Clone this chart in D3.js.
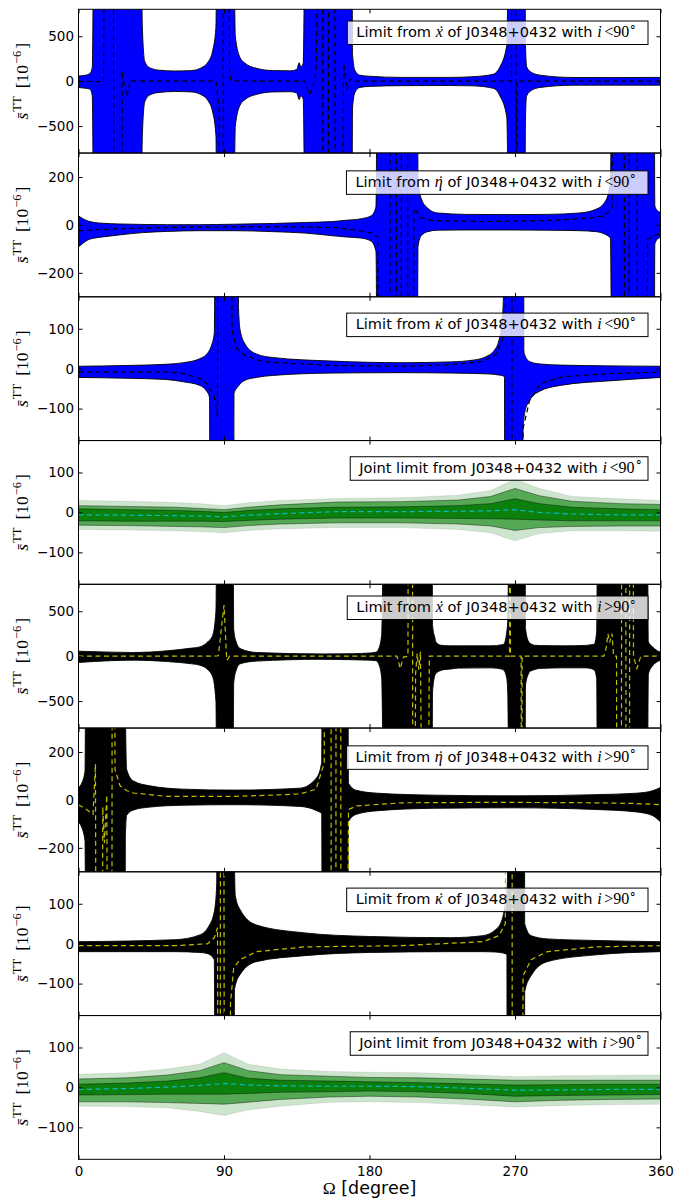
<!DOCTYPE html>
<html><head><meta charset="utf-8">
<script src="https://cdn.jsdelivr.net/npm/d3@7"></script>
<style>body{margin:0;background:#fff}svg{display:block}</style>
</head><body><svg id="c" width="676" height="1201"></svg>
<script>
// ---------- tick labels ----------
const xTicks = [0, 90, 180, 270, 360];
const yTicks800 = [-500, 0, 500];
const yTicks300 = [-200, 0, 200];
const yTicks180 = [-100, 0, 100];

// ---------- Panel 1 : x-dot, i<90 ----------
const p1_omega = [0,4,7,8.5,10, 38,39.5,41,44,50, 60,70,76,80,83, 85,86,95.4,97,100, 103,110,120,131,135, 136.5,137.5,139,140.7,169, 169.5,171,174,180,200, 230,244,256.6,260.7,264.9, 266.9,275.8,276.5,277.2,280, 285.5,306,330,360];
const p1_upper = [58,65,85,150,3000, 3000,600,220,150,122, 113,118,150,210,340, 600,3000,3000,500,260, 200,144,118,115,130, 205,160,200,3000,3000, 300,120,67,55,42, 42,50,78,160,400, 3000,3000,400,160,100, 67,41,40,42];
const p1_lower = [-70,-78,-88,-160,-3000, -3000,-600,-230,-155,-125, -115,-120,-152,-215,-345, -600,-3000,-3000,-500,-265, -205,-148,-120,-117,-132, -205,-165,-200,-3000,-3000, -300,-125,-70,-58,-50, -48,-52,-80,-165,-400, -3000,-3000,-400,-165,-105, -70,-45,-44,-45];
const p1_cOmega = [0,14,15.5,16.3,21.5, 21.9,26.5,27,28.5,30, 32,34,85,87,88, 89.4,89.7,92.5,93.5,94.5, 140,143,145,147,149, 151,151.3,154.5,154.8,158.5, 158.8,162.5,164,166,168, 170,267.8,268.1,270.4,270.6, 270.9,271.2,360];
const p1_center = [-2,-5,-8,3000,3000, -3000,-3000,110,-60,-170, 10,0,0,-300,-3000, -3000,3000,3000,100,0, 0,-150,-50,100,3000, 3000,-3000,-3000,3000,3000, -3000,-3000,200,-100,20, 0,0,3000,3000,-3000, -3000,0,0];

// ---------- Panel 2 : eta-dot, i<90 ----------
const p2_omega = [0,3,6,10,15, 25,40,55,75,96, 120,140,157,165,175, 181,184,186,209,210, 212,216,222,240,265, 290,310,320,326,329, 331.5,355.5,356.5,358,360];
const p2_upper = [38,25,16,10,7, 4,2,1,1,3, 6,10,14,19,26, 38,75,3000,3000,200, 110,70,50,44,43, 44,50,65,100,180, 3000,3000,80,60,53];
const p2_lower = [-92,-75,-62,-55,-50, -42,-32,-27,-24,-24, -28,-34,-45,-50,-55, -68,-110,-3000,-3000,-90, -45,-28,-22,-21,-21, -22,-24,-28,-40,-55, -3000,-3000,-80,-60,-52];
const p2_cOmega = [0,10,30,60,100, 140,160,175,182,185, 188,192.5,192.8,196.5,196.8, 199.5,199.8,203.5,203.8,206, 207.5,212,219,250,290, 315,325,330,332,337.5, 337.8,340.5,340.8,345.5,345.8, 350,352,356,360];
const p2_center = [-25,-20,-15,-10,-8, -8,-12,-25,-35,-50, -3000,-3000,3000,3000,-3000, -3000,3000,3000,-3000,-3000, 70,30,18,14,18, 28,38,70,3000,3000, -3000,-3000,3000,3000,-3000, -3000,-60,-45,-35];

// ---------- Panel 3 : kappa-dot, i<90 ----------
const p3_omega = [0,30,54,65,75, 79,81,82.4,84,86, 95.8,96.2,98,99,100, 103,110,120,157,200, 230,245,252,257,260, 262,263,263.5,264,274.3, 275,275.5,276,279,285, 298,330,360];
const p3_upper = [6,8,11,15,25, 35,46,60,90,3000, 3000,3000,3000,150,96, 62,37,28,19,15, 17,22,30,45,70, 120,200,3000,3000,3000, 3000,45,35,18,12, 9,7,6];
const p3_lower = [-22,-24,-27,-33,-42, -55,-71,-3000,-3000,-3000, -3000,-62,-48,-43,-38, -29,-22,-17,-11,-10, -11,-12,-13,-14,-16, -17,-19,-22,-3000,-3000, -150,-125,-110,-80,-57, -42,-30,-22];
const p3_cOmega = [0,30,55,65,75, 80,84,86,86.5,93.7, 95,98,103,115,157, 200,230,250,258,262, 264,265,268,268.2,273, 275,279,286,300,330, 360];
const p3_center = [-8.5,-8,-8,-12,-25, -40,-70,-121,3000,3000, 96,50,33,17,8, 6,10,18,35,70, 96,3000,3000,-3000,-3000, -150,-80,-37,-20,-12, -9];

// ---------- Panel 4 : joint, i<90 ----------
const p4_omega   = [0,30,60,75,90, 105,125,160,200,235, 255,270,285,305,335, 360];
const p4_lightUp = [30,28,25,22,17, 24,30,35,37,43, 55,83,60,40,34, 30];
const p4_lightLo = [-43,-44,-46,-48,-51, -45,-41,-38,-38,-43, -51,-71,-53,-46,-46, -47];
const p4_medUp   = [17,15,13,10,7, 13,19,26,27,31, 40,60,42,28,22, 20];
const p4_medLo   = [-32,-33,-35,-36,-38, -33,-29,-26,-26,-29, -34,-45,-38,-35,-34, -34];
const p4_darkUp  = [9,7,5,3,0, 5,9,13,14,17, 22,34,22,13,9, 7];
const p4_darkLo  = [-21,-22,-22,-22,-23, -20,-17,-14,-14,-15, -16,-17,-19,-21,-21, -21];
const p4_center  = [-6,-7,-8,-9,-11, -7,-3,2,2,3, 4,7,0,-4,-6, -6];

// ---------- Panel 5 : x-dot, i>90 ----------
const p5_omega = [0,20,34,55,70,75,80,83,85,86,
  95.4,96,97.5,100,110,150,170,180,184,185.5,
  187.5,189.6,218.5,219,220.5,221,224,226,230,235,
  255,262,263,264.9,265.5,266.9,276,276.5,278.5,279,
  282,285,300,314,316,319,320.5,321.5,351.5,352.5,
  355,358,360];
const p5_upper = [55,45,41,60,90,103,160,233,500,3000,
  3000,300,160,85,41,25,28,35,45,75,
  233,3000,3000,344,200,160,122,118,115,115,
  115,128,133,270,400,3000,3000,307,160,150,
  122,118,115,120,125,133,270,3000,3000,160,
  105,60,45];
const p5_lower = [-70,-50,-44,-60,-85,-100,-150,-230,-500,-3000,
  -3000,-300,-160,-85,-55,-35,-40,-44,-50,-80,
  -233,-3000,-3000,-400,-211,-195,-160,-150,-144,-133,
  -130,-145,-155,-248,-400,-3000,-3000,-322,-190,-174,
  -150,-137,-130,-130,-135,-155,-248,-3000,-3000,-200,
  -110,-62,-45];
const p5_cOmega = [0,84,86.5,90,91.7, 92.5,93.5,195,197,199, 201,203.8,204,206.5,206.8, 208,208.5,209.5,210.5,211.5, 213,216,217,266.6,266.9, 267.1,267.2,273.8,274,274.2, 274.4,325,326.5,327.5,328.5, 330,331,332.8,333,335.8, 336,338.5,338.7,340.8,341, 343,343.3,345.4,347.8,360];
const p5_center = [0,0,5,570,-45, -30,0,0,0,-137, -10,0,3000,3000,-3000, -3000,-200,30,-150,50, -3000,-3000,0,0,3000, 3000,0,0,-3000,-3000, 0,0,100,250,150, 250,0,0,-3000,-3000, 3000,3000,-3000,-3000,3000, 3000,0,-137,0,0];

// ---------- Panel 6 : eta-dot, i>90 ----------
const p6_omega = [0,2,4,5.5,28.5, 29,29.8,34,44,65, 96,137,147.3,150.4,151.4, 166,167,172,185,220, 270,320,345,355,360];
const p6_upper = [52,70,120,3000,3000, 400,127,79,59,45, 41,49,93,156,3000, 3000,70,40,28,20, 17,22,28,38,52];
const p6_lower = [-92,-115,-170,-3000,-3000, -150,-64,-42,-30,-22, -20,-27,-45,-57,-3000, -3000,-90,-60,-45,-35, -33,-40,-50,-65,-92];
const p6_cOmega = [0,5,9,10.5,11.5, 14,15,16,17.5,19, 20.5,21,22.6,25.7,30, 34,54,96,120,137, 147,152,153,156,156.5, 159,159.5,162,162.5,165, 167,172,200,260,320, 345,360];
const p6_center = [-20,-40,-60,150,-3000, -3000,-30,-180,20,-3000, -3000,3000,127,59,38, 29,15,15,20,25, 45,156,3000,3000,-3000, -3000,3000,3000,-3000,-3000, -40,-25,-12,-10,-12, -15,-20];

// ---------- Panel 7 : kappa-dot, i>90 ----------
const p7_omega = [0,60,75,80,84, 85.5,86,95.4,95.5,96.5, 97,100,110,140,180, 230,250,258,262,264, 265,265.5,266.5,274.5,275.5, 276,280,290,320,360];
const p7_upper = [5,10,22,40,80, 150,3000,3000,3000,200, 120,85,47,27,18, 15,20,35,60,100, 130,200,3000,3000,3000, 50,20,12,8,5];
const p7_lower = [-20,-20,-22,-25,-40, -3000,-3000,-3000,-3000,-115, -105,-77,-45,-30,-22, -20,-20,-21,-23,-25, -28,-3000,-3000,-3000,-3000, -120,-80,-45,-28,-20];
const p7_cOmega = [0,60,80,84,86, 87.5,88,89.5,90,91, 92,94,96,100,110, 140,200,250,260,264, 266,268,268.5,272,275, 280,290,320,360];
const p7_center = [-5,-5,0,15,40, -3000,3000,3000,140,-3000, -3000,-150,-60,-40,-20, -8,-5,5,20,50, 3000,3000,-3000,-3000,-80, -40,-20,-8,-5];

// ---------- Panel 8 : joint, i>90 ----------
const p8_omega   = [0,30,55,75,90, 105,125,155,180,210, 240,270,300,330,360];
const p8_lightUp = [33,37,46,58,87, 58,46,40,38,37, 32,27,29,30,31];
const p8_lightLo = [-47,-48,-51,-60,-70, -56,-47,-37,-36,-38, -43,-49,-45,-43,-42];
const p8_medUp   = [21,24,31,42,62, 42,32,28,25,24, 21,18,18,18,18];
const p8_medLo   = [-36,-36,-38,-40,-42, -37,-30,-24,-22,-24, -29,-36,-32,-30,-29];
const p8_darkUp  = [8,11,16,24,37, 23,18,16,14,12, 9,6,7,8,8];
const p8_darkLo  = [-19,-18,-17,-17,-17, -15,-12,-11,-9,-11, -15,-22,-20,-19,-18];
const p8_center  = [-5,-3,1,5,10, 6,4,3,3,2, -2,-7,-6,-5,-5];

// ---------- panel table ----------
const panels = [
  {type:'band', omega:p1_omega, upper:p1_upper, lower:p1_lower, cOmega:p1_cOmega, center:p1_center, dom:800, ticks:yTicks800, fill:'#0000ff', dash:'#000', sym:'x', cmp:'<', legTop:11.7},
  {type:'band', omega:p2_omega, upper:p2_upper, lower:p2_lower, cOmega:p2_cOmega, center:p2_center, dom:300, ticks:yTicks300, fill:'#0000ff', dash:'#000', sym:'\u03b7', cmp:'<', legTop:17.8},
  {type:'band', omega:p3_omega, upper:p3_upper, lower:p3_lower, cOmega:p3_cOmega, center:p3_center, dom:180, ticks:yTicks180, fill:'#0000ff', dash:'#000', sym:'\u03ba', cmp:'<', legTop:16.3},
  {type:'joint', omega:p4_omega, lightUp:p4_lightUp, lightLo:p4_lightLo, medUp:p4_medUp, medLo:p4_medLo, darkUp:p4_darkUp, darkLo:p4_darkLo, center:p4_center, dom:180, ticks:yTicks180, cmp:'<', legTop:16.2},
  {type:'band', omega:p5_omega, upper:p5_upper, lower:p5_lower, cOmega:p5_cOmega, center:p5_center, dom:800, ticks:yTicks800, fill:'#000000', dash:'#bfbf00', sym:'x', cmp:'>', legTop:11.7},
  {type:'band', omega:p6_omega, upper:p6_upper, lower:p6_lower, cOmega:p6_cOmega, center:p6_center, dom:300, ticks:yTicks300, fill:'#000000', dash:'#bfbf00', sym:'\u03b7', cmp:'>', legTop:17.8},
  {type:'band', omega:p7_omega, upper:p7_upper, lower:p7_lower, cOmega:p7_cOmega, center:p7_center, dom:180, ticks:yTicks180, fill:'#000000', dash:'#bfbf00', sym:'\u03ba', cmp:'>', legTop:16.3},
  {type:'joint', omega:p8_omega, lightUp:p8_lightUp, lightLo:p8_lightLo, medUp:p8_medUp, medLo:p8_medLo, darkUp:p8_darkUp, darkLo:p8_darkLo, center:p8_center, dom:180, ticks:yTicks180, cmp:'>', legTop:16.2}
];

// ---------- drawing ----------
const svg = d3.select('#c');
const X0 = 78.5, X1 = 660.5, TOP = 9.3, PH = 143.75;
const x = d3.scaleLinear().domain([0, 360]).range([X0, X1]);
const defs = svg.append('defs');
const SANS = 'DejaVu Sans', SERIF = 'Liberation Serif';
const LSANS = 14.6, LSERIF = 16;

function measure(str, family, size, style) {
  const t = svg.append('text').attr('font-family', family).attr('font-size', size)
    .attr('font-style', style || 'normal').text(str);
  const w = t.node().getComputedTextLength();
  t.remove();
  return w;
}

panels.forEach((p, i) => {
  const top = TOP + i * PH, bot = top + PH;
  const y = d3.scaleLinear().domain([-p.dom, p.dom]).range([bot, top]);
  const cid = 'clip' + i;
  defs.append('clipPath').attr('id', cid).append('rect')
    .attr('x', X0).attr('y', top).attr('width', X1 - X0).attr('height', PH);
  const pg = svg.append('g').attr('clip-path', `url(#${cid})`);
  const idx = d3.range(p.omega.length);

  if (p.type === 'band') {
    const area = d3.area().x(j => x(p.omega[j])).y0(j => y(p.lower[j])).y1(j => y(p.upper[j])).curve(d3.curveMonotoneX);
    pg.append('path').attr('d', area(idx)).attr('fill', p.fill);
    [p.upper, p.lower].forEach(arr => {
      const ln = d3.line().x(j => x(p.omega[j])).y(j => y(arr[j])).curve(d3.curveMonotoneX);
      pg.append('path').attr('d', ln(idx)).attr('fill', 'none').attr('stroke', '#000').attr('stroke-width', 0.9);
    });
    const cidx = d3.range(p.cOmega.length);
    const lc = d3.line().x(j => x(p.cOmega[j])).y(j => y(p.center[j]));
    pg.append('path').attr('d', lc(cidx)).attr('fill', 'none').attr('stroke', p.dash)
      .attr('stroke-width', 1.2).attr('stroke-dasharray', '5,3.5');
  } else {
    const layers = [
      {up: p.lightUp, lo: p.lightLo, fill: '#cde5cd', edge: 'rgba(0,0,0,0.10)'},
      {up: p.medUp, lo: p.medLo, fill: '#55a955', edge: 'rgba(0,0,0,0.45)'},
      {up: p.darkUp, lo: p.darkLo, fill: '#0c7f0c', edge: 'rgba(0,0,0,0.45)'}
    ];
    layers.forEach(L => {
      const area = d3.area().x(j => x(p.omega[j])).y0(j => y(L.lo[j])).y1(j => y(L.up[j]));
      pg.append('path').attr('d', area(idx)).attr('fill', L.fill);
      [L.up, L.lo].forEach(arr => {
        const ln = d3.line().x(j => x(p.omega[j])).y(j => y(arr[j]));
        pg.append('path').attr('d', ln(idx)).attr('fill', 'none').attr('stroke', L.edge).attr('stroke-width', 0.9);
      });
    });
    const lc = d3.line().x(j => x(p.omega[j])).y(j => y(p.center[j]));
    pg.append('path').attr('d', lc(idx)).attr('fill', 'none').attr('stroke', '#00bfbf')
      .attr('stroke-width', 1.2).attr('stroke-dasharray', '5,3.5');
  }

  // frame
  svg.append('rect').attr('x', X0).attr('y', top).attr('width', X1 - X0).attr('height', PH)
    .attr('fill', 'none').attr('stroke', '#000').attr('stroke-width', 1);

  // axes (inward ticks)
  const styleAx = g => {
    g.select('.domain').remove();
    g.attr('font-family', SANS).attr('font-size', 13.5);
    g.selectAll('.tick line').attr('stroke', '#000').attr('stroke-width', 1);
    g.selectAll('.tick text').attr('fill', '#000');
  };
  svg.append('g').attr('transform', `translate(${X0},0)`)
    .call(d3.axisLeft(y).tickValues(p.ticks).tickSize(-4).tickPadding(4.5)).call(styleAx);
  svg.append('g').attr('transform', `translate(${X1},0)`)
    .call(d3.axisRight(y).tickValues(p.ticks).tickSize(-4).tickFormat(() => '')).call(styleAx);
  svg.append('g').attr('transform', `translate(0,${top})`)
    .call(d3.axisTop(x).tickValues(xTicks).tickSize(-4).tickFormat(() => '')).call(styleAx);
  const bAx = d3.axisBottom(x).tickValues(xTicks).tickSize(-4).tickPadding(7);
  if (i !== panels.length - 1) bAx.tickFormat(() => '');
  svg.append('g').attr('transform', `translate(0,${bot})`).call(bAx).call(styleAx);

  // y label
  const yl = svg.append('text').attr('transform', `translate(27.5,${(top + bot) / 2}) rotate(-90)`)
    .attr('text-anchor', 'middle').attr('font-family', SERIF).attr('font-size', 17.5).attr('fill', '#000');
  yl.append('tspan').attr('font-style', 'italic').text('s\u0304');
  yl.append('tspan').attr('font-size', 12.5).attr('dy', -7).attr('dx', 1).text('TT');
  yl.append('tspan').attr('dy', 7).attr('dx', 8).text('[10');
  yl.append('tspan').attr('font-size', 12.5).attr('dy', -7).attr('dx', 1).text('\u22126');
  yl.append('tspan').attr('dy', 7).attr('dx', 2).text(']');

  // legend
  const lTop = top + p.legTop;
  const lg = svg.append('g');
  const rect = lg.append('rect');
  const t = lg.append('text').attr('y', lTop + 16).attr('font-family', SANS).attr('font-size', LSANS).attr('fill', '#000');
  if (p.type === 'band') {
    t.append('tspan').text('Limit from ');
    const lw = measure(p.sym, SERIF, LSERIF, 'italic');
    const dw = measure('\u02d9', SERIF, LSERIF, 'normal');
    const sh = lw / 2 + dw / 2 - 1.2;
    // letter and its dot accent in one tspan, the dot moved back over the letter
    t.append('tspan').attr('font-family', SERIF).attr('font-style', 'italic').attr('font-size', LSERIF)
      .attr('dx', `0 ${-sh}`).text(p.sym + '\u02d9');
    t.append('tspan').attr('dx', sh - dw).text(' of J0348+0432 with ');
  } else {
    t.append('tspan').text('Joint limit from J0348+0432 with ');
  }
  t.append('tspan').attr('font-family', SERIF).attr('font-style', 'italic').attr('font-size', LSERIF).text('i');
  t.append('tspan').attr('font-family', SERIF).attr('font-size', LSERIF).attr('dx', 2.5).text(p.cmp + '90');
  t.append('tspan').attr('font-family', SERIF).attr('font-size', 11.5).attr('dy', -6.5).text('\u2218');
  const w = t.node().getComputedTextLength();
  const padL = 9, padR = 8, boxR = 648;
  const bx = boxR - w - padL - padR;
  t.attr('x', bx + padL);
  rect.attr('x', bx).attr('y', lTop).attr('width', w + padL + padR).attr('height', 23.5)
    .attr('fill', '#fff').attr('fill-opacity', 0.8).attr('stroke', '#000').attr('stroke-width', 1);
});

// x label
const xl = svg.append('text').attr('x', (X0 + X1) / 2).attr('y', 1194).attr('text-anchor', 'middle')
  .attr('font-size', 17.5).attr('fill', '#000');
xl.append('tspan').attr('font-family', SERIF).text('\u03a9');
xl.append('tspan').attr('font-family', SANS).text(' [degree]');
</script></body></html>
